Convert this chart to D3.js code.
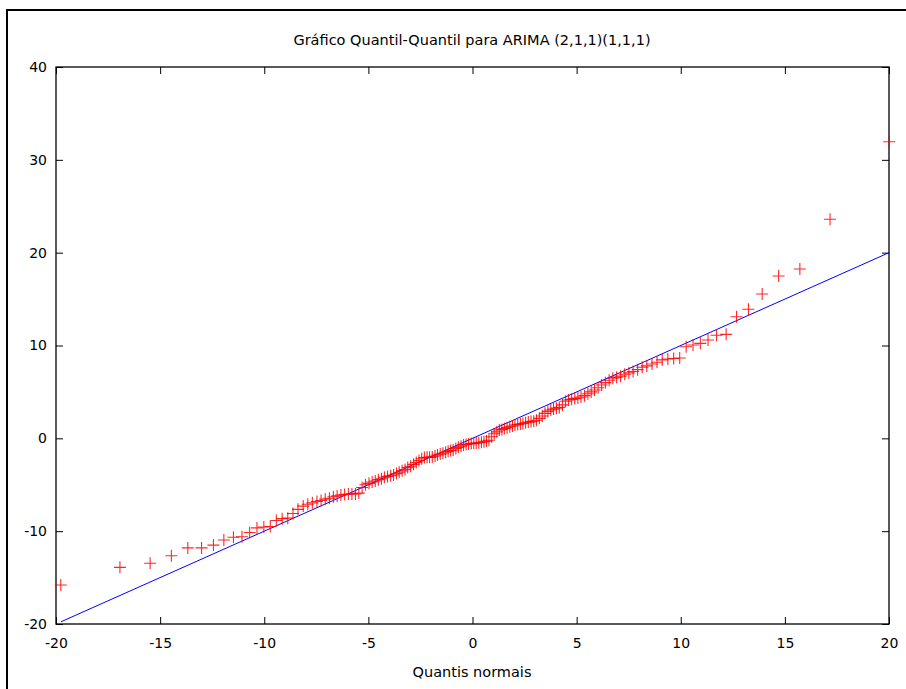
<!DOCTYPE html>
<html><head><meta charset="utf-8">
<script src="https://cdn.jsdelivr.net/npm/d3@7/dist/d3.min.js"></script>
<style>body{margin:0;background:#fff;} text{font-family:"DejaVu Sans",sans-serif;}</style>
</head><body>
<script>
const title = "Gráfico Quantil-Quantil para ARIMA (2,1,1)(1,1,1)";
const xLabel = "Quantis normais";
const xTicks = [-20,-15,-10,-5,0,5,10,15,20];
const yTicks = [-20,-10,0,10,20,30,40];
// theoretical normal quantiles (x) and sorted residuals (y)
const qx = [-19.77,-16.93,-15.48,-14.46,-13.67,-13.01,-12.44,-11.94,-11.48,-11.07,
-10.70,-10.35,-10.02,-9.71,-9.42,-9.14,-8.87,-8.62,-8.38,-8.13,
-7.91,-7.69,-7.47,-7.27,-7.07,-6.87,-6.68,-6.50,-6.32,-6.14,
-5.96,-5.79,-5.62,-5.46,-5.30,-5.14,-4.97,-4.82,-4.67,-4.52,
-4.37,-4.23,-4.08,-3.93,-3.79,-3.65,-3.52,-3.38,-3.24,-3.11,
-2.97,-2.83,-2.70,-2.57,-2.44,-2.31,-2.18,-2.06,-1.93,-1.80,
-1.68,-1.55,-1.42,-1.29,-1.17,-1.05,-0.93,-0.80,-0.68,-0.55,
-0.43,-0.31,-0.19,-0.06,0.06,0.18,0.30,0.43,0.55,0.67,
0.79,0.92,1.04,1.17,1.29,1.41,1.53,1.66,1.79,1.92,
2.04,2.17,2.30,2.42,2.55,2.68,2.81,2.94,3.07,3.21,
3.35,3.48,3.62,3.76,3.89,4.03,4.17,4.32,4.47,4.61,
4.76,4.91,5.06,5.21,5.38,5.54,5.70,5.86,6.03,6.20,
6.38,6.56,6.74,6.92,7.11,7.31,7.51,7.71,7.93,8.15,
8.37,8.62,8.86,9.11,9.38,9.66,9.95,10.26,10.59,10.94,
11.31,11.72,12.18,12.68,13.25,13.91,14.70,15.72,17.17,20.01];
const qy = [-15.8,-13.9,-13.45,-12.65,-11.8,-11.8,-11.5,-10.95,-10.65,-10.6,
-10.15,-9.65,-9.55,-9.5,-8.85,-8.65,-8.6,-8.1,-7.65,-7.3,
-7.1,-6.95,-6.8,-6.7,-6.55,-6.45,-6.3,-6.2,-6.1,-6.05,
-6.0,-6.0,-6.0,-5.9,-5.3,-5.0,-4.85,-4.7,-4.6,-4.45,
-4.35,-4.2,-4.1,-4.03,-3.95,-3.8,-3.65,-3.5,-3.35,-3.15,
-3.0,-2.8,-2.6,-2.4,-2.2,-2.07,-2.05,-2.05,-2.0,-1.9,
-1.8,-1.7,-1.6,-1.5,-1.4,-1.32,-1.26,-1.1,-0.97,-0.84,
-0.72,-0.66,-0.61,-0.57,-0.54,-0.5,-0.47,-0.42,-0.37,-0.3,
-0.2,0.17,0.5,0.7,0.89,0.95,1.05,1.15,1.25,1.33,
1.43,1.48,1.54,1.6,1.68,1.75,1.8,1.85,1.95,2.15,
2.4,2.69,2.9,3.05,3.15,3.25,3.33,3.6,4.0,4.13,
4.2,4.28,4.35,4.45,4.6,4.8,5.0,5.2,5.45,5.75,
6.0,6.25,6.47,6.57,6.7,6.9,7.05,7.2,7.4,7.65,
7.8,8.0,8.2,8.45,8.55,8.6,8.65,9.87,10.05,10.23,
10.59,11.1,11.2,13.1,13.9,15.54,17.48,18.24,23.6,31.95];
const refLine = [-19.77, 20.01];

const W = 906, H = 689;
const m = {left:56, right:889, top:67, bottom:624};
const svg = d3.select("body").append("svg").attr("width",W).attr("height",H);

// outer frame
svg.append("rect").attr("x",7).attr("y",10).attr("width",1200).attr("height",1200)
  .attr("fill","none").attr("stroke","#000").attr("stroke-width",2);

const x = d3.scaleLinear().domain([-20,20]).range([m.left,m.right]);
const y = d3.scaleLinear().domain([-20,40]).range([m.bottom,m.top]);

const clipId = "plotclip";
svg.append("clipPath").attr("id",clipId).append("rect")
  .attr("x",m.left).attr("y",m.top).attr("width",m.right-m.left).attr("height",m.bottom-m.top);

const tl = 7;
const fmt = d => String(d);
const axB = d3.axisBottom(x).tickValues(xTicks).tickSize(-tl).tickPadding(14).tickFormat(fmt);
const axT = d3.axisTop(x).tickValues(xTicks).tickSize(-tl).tickFormat("");
const axL = d3.axisLeft(y).tickValues(yTicks).tickSize(-tl).tickPadding(9).tickFormat(fmt);
const axR = d3.axisRight(y).tickValues(yTicks).tickSize(-tl).tickFormat("");
function style(g){
  g.select(".domain").remove();
  g.selectAll("line").attr("stroke","#000");
  g.selectAll("text").attr("font-size",14).attr("fill","#000").attr("font-family","DejaVu Sans, sans-serif");
}
svg.append("g").attr("transform",`translate(0,${m.bottom})`).call(axB).call(style);
svg.append("g").attr("transform",`translate(0,${m.top})`).call(axT).call(style);
svg.append("g").attr("transform",`translate(${m.left},0)`).call(axL).call(style);
svg.append("g").attr("transform",`translate(${m.right},0)`).call(axR).call(style);

// box
svg.append("rect").attr("x",m.left).attr("y",m.top).attr("width",m.right-m.left).attr("height",m.bottom-m.top)
  .attr("fill","none").attr("stroke","#000").attr("stroke-width",1.3);

const pg = svg.append("g").attr("clip-path",`url(#${clipId})`);
pg.append("line").attr("x1",x(refLine[0])).attr("y1",y(refLine[0]))
  .attr("x2",x(refLine[1])).attr("y2",y(refLine[1]))
  .attr("stroke","#0000ff").attr("stroke-width",1);

const s = 6;
const pts = svg.append("g").attr("stroke","#ff0000").attr("stroke-width",1.1).attr("stroke-opacity",0.85);
qx.forEach((v,i)=>{
  const cx = x(v), cy = y(qy[i]);
  pts.append("path").attr("d",`M${cx-s},${cy}H${cx+s}M${cx},${cy-s}V${cy+s}`).attr("fill","none");
});

svg.append("text").attr("x",472).attr("y",45).attr("text-anchor","middle")
  .attr("font-size",14.5).text(title);
svg.append("text").attr("x",472).attr("y",677).attr("text-anchor","middle")
  .attr("font-size",14.5).text(xLabel);
</script>
</body></html>
